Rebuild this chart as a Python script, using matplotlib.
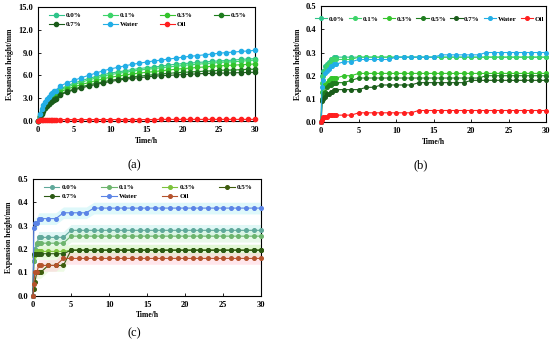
import matplotlib
matplotlib.use("Agg")
import matplotlib.pyplot as plt
from matplotlib.ticker import FormatStrFormatter, MultipleLocator

plt.rcParams['font.family'] = ['Liberation Serif', 'DejaVu Serif']
plt.rcParams['font.weight'] = 'bold'

labels = ['0.0%', '0.1%', '0.3%', '0.5%', '0.7%', 'Water', 'Oil']

# ---- panel (a) ----
t_a = [0, 0.25, 0.5, 0.75, 1, 1.25, 1.5, 1.75, 2, 2.25, 2.5] + list(range(3, 31))
a_00 = [0, 0.7, 1.3, 1.8, 2.2, 2.5, 2.8, 3.1, 3.3, 3.5, 3.7,
        4.2, 4.6, 5.0, 5.3, 5.6, 5.85, 6.1, 6.3, 6.45, 6.6, 6.75, 6.9, 7.0, 7.1,
        7.2, 7.35, 7.45, 7.55, 7.6, 7.7, 7.75, 7.85, 7.9, 7.95, 8.0, 8.1, 8.15, 8.2]
a_01 = [0, 0.65, 1.2, 1.7, 2.1, 2.4, 2.7, 2.95, 3.2, 3.4, 3.55,
        4.05, 4.45, 4.8, 5.1, 5.4, 5.65, 5.9, 6.1, 6.25, 6.4, 6.55, 6.7, 6.8, 6.9,
        7.0, 7.1, 7.2, 7.3, 7.4, 7.45, 7.55, 7.6, 7.7, 7.75, 7.8, 7.85, 7.95, 8.0]
a_03 = [0, 0.6, 1.1, 1.55, 1.95, 2.25, 2.5, 2.75, 2.95, 3.15, 3.3,
        3.8, 4.2, 4.5, 4.8, 5.05, 5.3, 5.55, 5.75, 5.9, 6.05, 6.2, 6.3, 6.4, 6.5,
        6.6, 6.7, 6.8, 6.9, 6.95, 7.05, 7.1, 7.2, 7.25, 7.3, 7.35, 7.4, 7.45, 7.5]
a_05 = [0, 0.55, 1.0, 1.4, 1.75, 2.05, 2.3, 2.5, 2.7, 2.9, 3.05,
        3.5, 3.9, 4.2, 4.5, 4.75, 4.95, 5.15, 5.35, 5.5, 5.65, 5.8, 5.9, 6.0, 6.1,
        6.2, 6.25, 6.35, 6.4, 6.45, 6.5, 6.55, 6.6, 6.65, 6.7, 6.7, 6.75, 6.8, 6.8]
a_07 = [0, 0.5, 0.95, 1.35, 1.7, 2.0, 2.25, 2.45, 2.65, 2.8, 2.95,
        3.4, 3.8, 4.1, 4.35, 4.6, 4.8, 5.0, 5.2, 5.35, 5.5, 5.6, 5.7, 5.8, 5.9,
        5.95, 6.0, 6.05, 6.1, 6.15, 6.2, 6.25, 6.25, 6.3, 6.3, 6.35, 6.35, 6.4, 6.4]
a_water = [0, 0.9, 1.6, 2.1, 2.5, 2.9, 3.2, 3.5, 3.7, 3.9, 4.0,
           4.6, 5.0, 5.35, 5.7, 6.0, 6.3, 6.6, 6.85, 7.05, 7.25, 7.45, 7.6, 7.75, 7.9,
           8.0, 8.15, 8.25, 8.4, 8.5, 8.6, 8.7, 8.8, 8.9, 9.0, 9.05, 9.15, 9.2, 9.3]
a_oil = [0, 0.1, 0.15, 0.18, 0.2, 0.2, 0.2, 0.2, 0.2, 0.2, 0.2] + [0.2] * 14 + [0.22] * 14

# ---- panel (b) ----
t_b = [0, 0.1, 0.25, 0.5, 0.75, 1, 1.25, 1.5, 1.75, 2] + list(range(3, 31))
b_00 = [0, 0.20, 0.22, 0.24, 0.25, 0.26, 0.27, 0.27, 0.28, 0.28] + [0.28] * 28
b_01 = [0, 0.17, 0.20, 0.22, 0.24, 0.25, 0.26, 0.27, 0.27, 0.27] + [0.27] * 2 + [0.28] * 26
b_03 = [0, 0.13, 0.15, 0.16, 0.17, 0.18, 0.19, 0.19, 0.19, 0.19] + [0.20] * 2 + [0.21] * 26
b_05 = [0, 0.10, 0.12, 0.13, 0.15, 0.16, 0.16, 0.17, 0.17, 0.17] + [0.17, 0.18] + [0.19] * 17 + [0.20] * 9
b_07 = [0, 0.09, 0.10, 0.11, 0.12, 0.12, 0.13, 0.13, 0.14, 0.14] + [0.14] * 3 + [0.15] * 2 + [0.16] * 5 + [0.17] * 7 + [0.18] * 11
b_water = [0, 0.15, 0.18, 0.21, 0.22, 0.23, 0.24, 0.24, 0.25, 0.25] + [0.26] * 2 + [0.27] * 5 + [0.28] * 6 + [0.29] * 6 + [0.30] * 9
b_oil = [0, 0.01, 0.02, 0.02, 0.02, 0.03, 0.03, 0.03, 0.03, 0.03] + [0.03] * 2 + [0.04] * 8 + [0.05] * 18

# ---- panel (c) ----
t_c = [0, 0.1, 0.25, 0.5, 0.75, 1] + list(range(2, 31))
c_00 = [0, 0.15, 0.20, 0.22, 0.25, 0.25] + [0.25] * 3 + [0.28] * 26
c_01 = [0, 0.15, 0.19, 0.225, 0.225, 0.225] + [0.225] * 3 + [0.255] * 26
c_03 = [0, 0.17, 0.18, 0.19, 0.19, 0.19] + [0.19] * 3 + [0.195] * 26
c_05 = [0, 0.03, 0.06, 0.10, 0.10, 0.10] + [0.13] * 3 + [0.195] * 26
c_07 = [0, 0.18, 0.18, 0.18, 0.18, 0.18] + [0.18] * 3 + [0.195] * 26
c_water = [0, 0.29, 0.31, 0.31, 0.33, 0.33] + [0.33] * 2 + [0.355] * 4 + [0.375] * 23
c_oil = [0, 0.05, 0.10, 0.10, 0.13, 0.13] + [0.13] * 2 + [0.16] * 27

colors_ab = ['#2ec48a', '#3dd46a', '#35c42c', '#1e7d1e', '#1a5c1a', '#22aee6', '#ff1f1f']
colors_c = ['#5fa89a', '#6db46d', '#7cc23a', '#3d5c0c', '#2c5a14', '#5b84e6', '#b5532c']
bands_c = ['#c6f2ee', '#d8f4d8', '#dff7cf', '#dff7cf', '#dff7cf', '#c4f4f6', '#ffd3dc']


def style_axes(ax, ymax, ystep, fmt):
    ax.set_xlim(0, 30)
    ax.set_ylim(0, ymax)
    ax.xaxis.set_major_locator(MultipleLocator(5))
    ax.yaxis.set_major_locator(MultipleLocator(ystep))
    ax.yaxis.set_major_formatter(FormatStrFormatter(fmt))
    ax.tick_params(direction='in', labelsize=6, length=2.5, width=0.6)
    for s in ax.spines.values():
        s.set_linewidth(0.8)
    ax.set_xlabel('Time/h', fontsize=5.5, fontweight='bold', labelpad=2)
    ax.set_ylabel('Expansion height/mm', fontsize=5.5, fontweight='bold', labelpad=3)


def draw(ax, t, series, colors, ms=2.6):
    lines = []
    for y, c, lab in zip(series, colors, labels):
        ln, = ax.plot(t, y, '-o', color=c, lw=0.8, ms=ms, label=lab, clip_on=False, zorder=3)
        lines.append(ln)
    return lines


def two_row_legend(ax, lines):
    # matplotlib fills legends column by column; reorder so rows read left to right
    order = [0, 4, 1, 5, 2, 6, 3]
    ax.legend([lines[i] for i in order], [labels[i] for i in order],
              loc='upper left', ncol=4, fontsize=5, frameon=False, mode='expand',
              bbox_to_anchor=(0.03, 0.99, 0.95, 0.0), handlelength=2.2, handletextpad=0.3,
              borderaxespad=0.2, labelspacing=0.5)


fig = plt.figure(figsize=(5.5, 3.42), dpi=100)

ax1 = fig.add_axes([0.069, 0.646, 0.395, 0.334])
l1 = draw(ax1, t_a, [a_00, a_01, a_03, a_05, a_07, a_water, a_oil], colors_ab, ms=3.0)
style_axes(ax1, 15, 3, '%.1f')
two_row_legend(ax1, l1)

ax2 = fig.add_axes([0.584, 0.643, 0.409, 0.339])
draw(ax2, t_b, [b_00, b_01, b_03, b_05, b_07, b_water, b_oil], colors_ab, ms=2.6)
style_axes(ax2, 0.5, 0.1, '%.1f')
ax2.legend(loc='center left', ncol=7, fontsize=5, frameon=False,
           bbox_to_anchor=(-0.04, 0.89), handlelength=1.8, handletextpad=0.2,
           columnspacing=0.6, borderaxespad=0)

ax3 = fig.add_axes([0.060, 0.135, 0.415, 0.342])
for y, bc in zip([c_00, c_01, c_03, c_05, c_07, c_water, c_oil], bands_c):
    ax3.fill_between(t_c, [v - 0.025 for v in y], [v + 0.025 for v in y],
                     color=bc, alpha=0.55, lw=0, zorder=1)
l3 = draw(ax3, t_c, [c_00, c_01, c_03, c_05, c_07, c_water, c_oil], colors_c, ms=2.6)
style_axes(ax3, 0.5, 0.1, '%.1f')
two_row_legend(ax3, l3)

fig.text(134 / 550, 1 - 165 / 342, '(a)', ha='center', va='center', fontsize=9, fontweight='normal')
fig.text(421 / 550, 1 - 165 / 342, '(b)', ha='center', va='center', fontsize=9, fontweight='normal')
fig.text(134 / 550, 1 - 333 / 342, '(c)', ha='center', va='center', fontsize=9, fontweight='normal')

fig.savefig('out.png', dpi=100)
